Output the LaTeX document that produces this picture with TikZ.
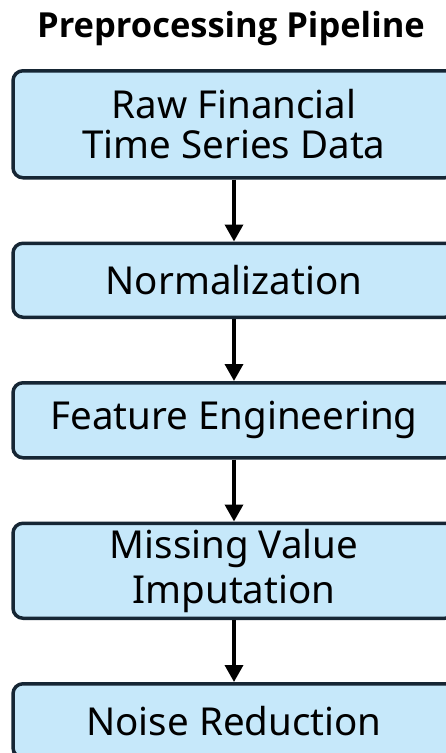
\documentclass[tikz,border=0pt]{standalone}
\usepackage{fontspec}
\setmainfont{Noto Sans}
\newfontfamily\titlefont{Open Sans}
\usepackage{tikz}
\usetikzlibrary{arrows.meta,positioning}
\definecolor{stagefill}{RGB}{198,232,250}
\definecolor{stageline}{RGB}{22,38,52}

\begin{document}
\begin{tikzpicture}[x=1pt,y=1pt,
  stage/.style={draw=stageline, fill=stagefill, line width=3.5pt, rounded corners=10pt,
    minimum width=442pt, minimum height=74pt, inner sep=0pt, align=center,
    font=\fontsize{38.5}{40}\selectfont},
  flow/.style={-{Triangle[width=18pt,length=17pt]}, line width=3.5pt}]
\useasboundingbox (0,0) rectangle (446,-753);
\node[font=\titlefont\bfseries\fontsize{34.5}{38}\selectfont] (title) at (231,-29) {Preprocessing Pipeline};
\node[stage, minimum height=107pt, anchor=north] (raw) at (234,-69) {Raw Financial\\Time Series Data};
\node[stage, below=62pt of raw] (norm) {Normalization};
\node[stage, minimum height=75pt, below=62pt of norm] (feat) {Feature Engineering};
\node[stage, minimum height=95pt, below=62pt of feat, font=\fontsize{38.5}{45}\selectfont] (miss) {Missing Value\\Imputation};
\node[stage, below=62pt of miss] (noise) {Noise Reduction};
\draw[flow] (raw) -- (norm);
\draw[flow] (norm) -- (feat);
\draw[flow] (feat) -- (miss);
\draw[flow] (miss) -- (noise);
\end{tikzpicture}
\end{document}
